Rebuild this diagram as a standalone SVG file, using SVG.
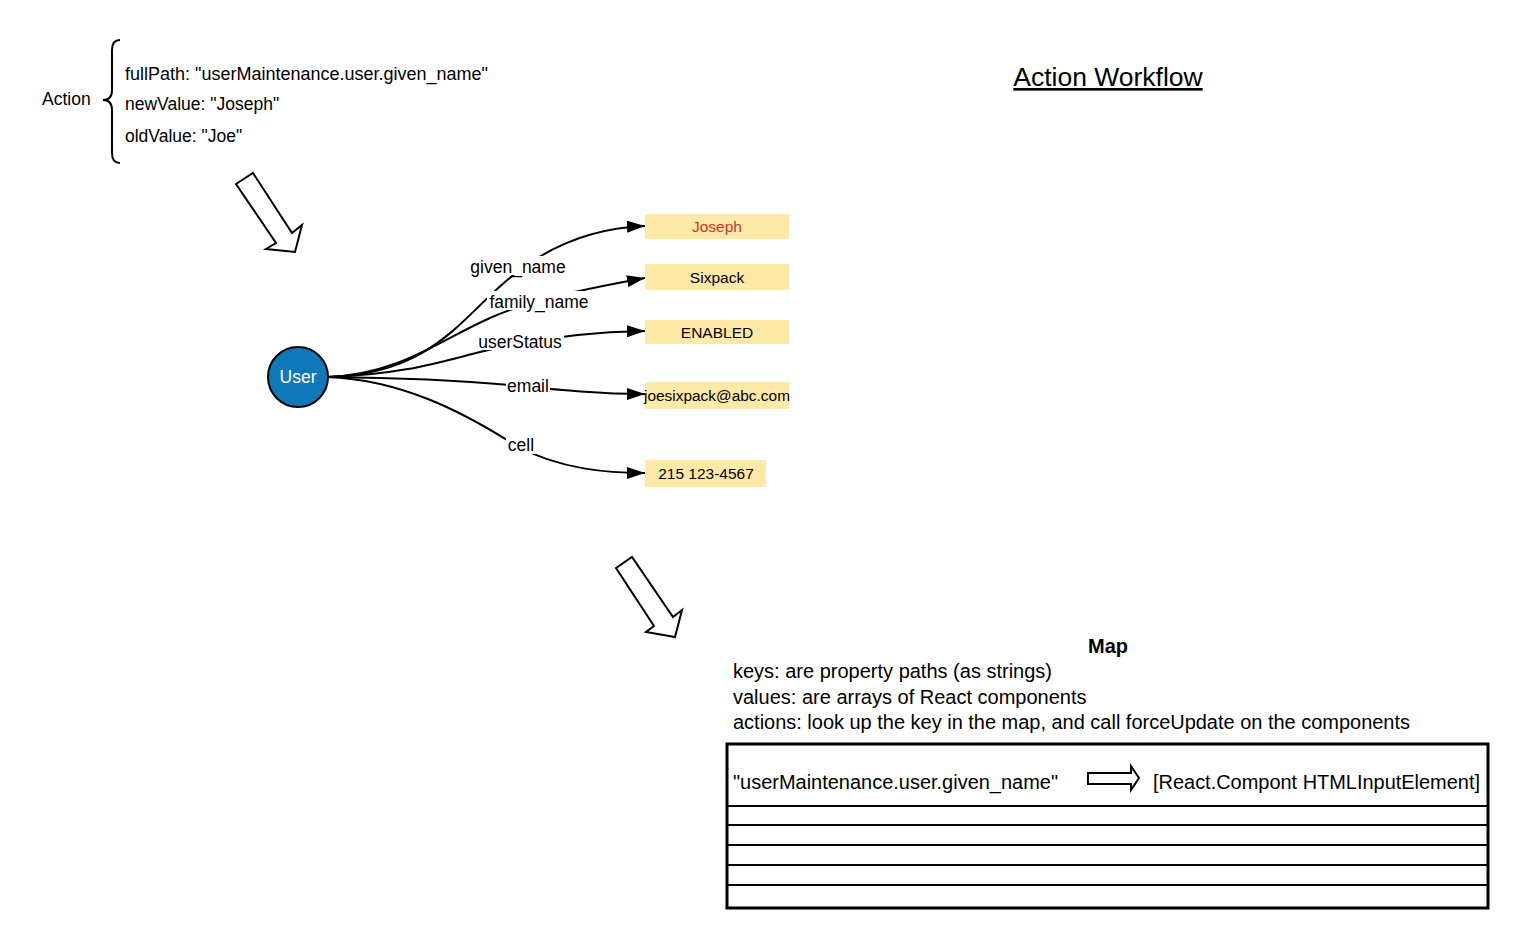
<svg xmlns="http://www.w3.org/2000/svg" width="1530" height="948" viewBox="0 0 1530 948">
<defs>
<marker id="ah" markerWidth="18" markerHeight="12" refX="18" refY="6" orient="auto" markerUnits="userSpaceOnUse">
<path d="M0,0 L18,6 L0,12 Z" fill="#000"/>
</marker>
<style>
text{font-family:"Liberation Sans",Arial,sans-serif;fill:#000}
.t16{font-size:17.5px}
.t14{font-size:15.5px}
.t18{font-size:20px}
.edge{fill:none;stroke:#000;stroke-width:2;marker-end:url(#ah)}
.box{fill:#ffe9a6}
.lbl{font-size:17.5px;text-anchor:middle}
.blk{fill:#fff;stroke:#000;stroke-width:2;stroke-linejoin:miter}
</style>
</defs>
<rect width="1530" height="948" fill="#fff"/>

<g id="title">
<text x="1108" y="86" font-size="26.5" text-anchor="middle" text-decoration="underline">Action Workflow</text>
</g>

<g id="action">
<text x="42" y="105" class="t16">Action</text>
<path d="M120,40 Q112,40 112,50 L112,90 Q112,100 103,100 Q112,100 112,110 L112,153 Q112,163 120,163" fill="none" stroke="#000" stroke-width="2"/>
<text x="125" y="80" class="t16" textLength="363" lengthAdjust="spacingAndGlyphs">fullPath: "userMaintenance.user.given_name"</text>
<text x="125" y="110" class="t16">newValue: "Joseph"</text>
<text x="125" y="142" class="t16">oldValue: "Joe"</text>
</g>

<g id="arrow1">
<polygon class="blk" points="236,184 253,173 292,233 302,225 295,252 266,249 276,243"/>
</g>
<g id="arrow2">
<polygon class="blk" points="616,568 632,557 673,617 682,610 675,637 646,632 654,626"/>
</g>

<g id="connectors">
<path class="edge" d="M328,377 C430,374 460,320 505,282 C545,247 590,228 645,226"/>
<path class="edge" d="M328,377 C400,374 440,340 490,318 C530,300 590,288 645,278"/>
<path class="edge" d="M328,377 C400,375 440,362 480,352 C520,342 580,332 645,331"/>
<path class="edge" d="M328,377 C420,378 480,382 520,386 C560,390 600,394 645,394"/>
<path class="edge" d="M328,377 C400,380 460,410 515,445 C560,470 610,473 645,473"/>
<rect x="468" y="256" width="100" height="19" fill="#fff"/>
<text x="518" y="273" class="lbl">given_name</text>
<rect x="487" y="291" width="104" height="19" fill="#fff"/>
<text x="539" y="308" class="lbl">family_name</text>
<rect x="476" y="331" width="88" height="19" fill="#fff"/>
<text x="520" y="348" class="lbl">userStatus</text>
<rect x="506" y="376" width="44" height="16" fill="#fff"/>
<text x="528" y="392" class="lbl">email</text>
<rect x="506" y="435" width="30" height="19" fill="#fff"/>
<text x="521" y="451" class="lbl">cell</text>
</g>

<g id="user">
<circle cx="298" cy="377" r="30" fill="#0f78b9" stroke="#000" stroke-width="2"/>
<text x="298" y="383" class="lbl" style="fill:#fff">User</text>
</g>

<g id="joseph">
<rect class="box" x="645" y="214" width="144" height="25"/>
<text x="717" y="232" class="t14" text-anchor="middle" style="fill:#d0312d">Joseph</text>
</g>
<g id="sixpack">
<rect class="box" x="645" y="264" width="144" height="26"/>
<text x="717" y="283" class="t14" text-anchor="middle">Sixpack</text>
</g>
<g id="enabled">
<rect class="box" x="645" y="320" width="144" height="24"/>
<text x="717" y="338" class="t14" text-anchor="middle">ENABLED</text>
</g>
<g id="emailbox">
<rect class="box" x="645" y="382" width="144" height="27"/>
<text x="717" y="401" class="t14" text-anchor="middle" textLength="146" lengthAdjust="spacingAndGlyphs">joesixpack@abc.com</text>
</g>
<g id="cellbox">
<rect class="box" x="645" y="460" width="121" height="27"/>
<text x="706" y="479" class="t14" text-anchor="middle">215 123-4567</text>
</g>

<g id="map">
<text x="1108" y="653" class="t18" font-weight="bold" text-anchor="middle">Map</text>
<text x="733" y="678" class="t18">keys: are property paths (as strings)</text>
<text x="733" y="704" class="t18">values: are arrays of React components</text>
<text x="733" y="729" class="t18" textLength="677" lengthAdjust="spacingAndGlyphs">actions: look up the key in the map, and call forceUpdate on the components</text>
</g>

<g id="table">
<rect x="727" y="744" width="761" height="164" fill="#fff" stroke="#000" stroke-width="3"/>
<g stroke="#000" stroke-width="2">
<line x1="727" y1="806" x2="1488" y2="806"/>
<line x1="727" y1="825" x2="1488" y2="825"/>
<line x1="727" y1="845" x2="1488" y2="845"/>
<line x1="727" y1="865" x2="1488" y2="865"/>
<line x1="727" y1="885" x2="1488" y2="885"/>
</g>
<text x="733" y="789" class="t18" textLength="325" lengthAdjust="spacingAndGlyphs">"userMaintenance.user.given_name"</text>
<polygon class="blk" points="1088,773 1131,773 1131,766 1139,778 1131,790 1131,784 1088,784"/>
<text x="1153" y="789" class="t18" textLength="327" lengthAdjust="spacingAndGlyphs">[React.Compont HTMLInputElement]</text>
</g>
</svg>
